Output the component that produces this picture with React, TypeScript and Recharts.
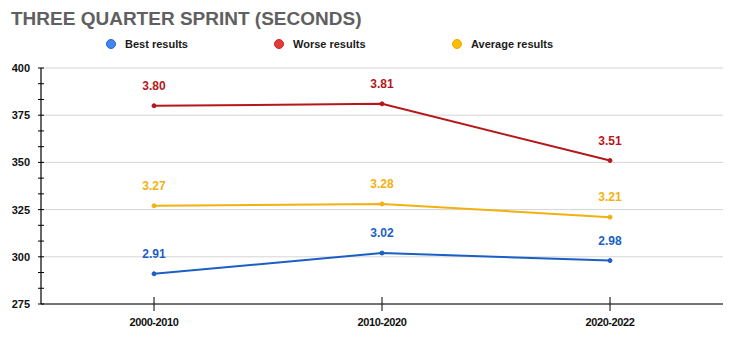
import React from "react";
import { LineChart, Line, XAxis, YAxis, CartesianGrid, LabelList } from "recharts";

const categories = ["2000-2010", "2010-2020", "2020-2022"];
const bestValues = [291, 302, 298];
const worseValues = [380, 381, 351];
const averageValues = [327, 328, 321];
const yMajorTicks = [275, 300, 325, 350, 375, 400];
const yAllTicks = [275, 283.33, 291.67, 300, 308.33, 316.67, 325, 333.33, 341.67, 350, 358.33, 366.67, 375, 383.33, 391.67, 400];

const data = categories.map((c, i) => ({
  name: c,
  best: bestValues[i],
  worse: worseValues[i],
  average: averageValues[i],
}));

const FONT = "'Liberation Sans', Arial, sans-serif";

const series = [
  { key: "best", label: "Best results", line: "#1a5fc4", dot: "#4285f4", border: "#2a66c8" },
  { key: "worse", label: "Worse results", line: "#b5171a", dot: "#e53935", border: "#c62828" },
  { key: "average", label: "Average results", line: "#f2b10f", dot: "#fbbc04", border: "#f0a800" },
];

const legendX = [111, 279, 457];

const YTick = (props: any) => {
  const { x, y, payload } = props;
  const v = payload.value;
  const major = yMajorTicks.some((m) => Math.abs(m - v) < 0.01);
  return (
    <g>
      <line x1={x - 3} x2={x + 3} y1={y} y2={y} stroke="#000" strokeWidth={1} />
      {major && (
        <text x={x - 11} y={y + 4} textAnchor="end" fontFamily={FONT} fontSize={11} fontWeight="bold" fill="#111">
          {v}
        </text>
      )}
    </g>
  );
};

const XTick = (props: any) => {
  const { x, y, payload } = props;
  return (
    <g>
      <line x1={x} x2={x} y1={y - 7} y2={y + 7} stroke="#000" strokeWidth={1} />
      <text x={x} y={y + 22} textAnchor="middle" fontFamily={FONT} fontSize={11} fontWeight="bold" fill="#111" letterSpacing={-0.4}>
        {payload.value}
      </text>
    </g>
  );
};

export default function App() {
  return (
    <div style={{ position: "absolute", left: 0, top: 0, width: 730, height: 339, background: "#fff" }}>
      <div
        style={{
          position: "absolute",
          left: 11,
          top: 6,
          fontFamily: FONT,
          fontWeight: "bold",
          fontSize: 19,
          color: "#606060",
          whiteSpace: "nowrap",
          lineHeight: "26px",
        }}
      >
        THREE QUARTER SPRINT (SECONDS)
      </div>
      {series.map((s, i) => (
        <div key={s.key}>
          <div
            style={{
              position: "absolute",
              left: legendX[i] - 5,
              top: 39,
              width: 10,
              height: 10,
              borderRadius: "50%",
              background: s.dot,
              boxSizing: "border-box",
              border: `1px solid ${s.border}`,
            }}
          />
          <div
            style={{
              position: "absolute",
              left: legendX[i] + 14,
              top: 36,
              fontFamily: FONT,
              fontWeight: "bold",
              fontSize: 11,
              lineHeight: "16px",
              color: "#1a1a1a",
              whiteSpace: "nowrap",
            }}
          >
            {s.label}
          </div>
        </div>
      ))}
      <LineChart width={730} height={339} data={data} margin={{ top: 68, right: 7, left: 0, bottom: 0 }}>
        <CartesianGrid stroke="#d4d4d4" horizontalValues={yMajorTicks} vertical={false} />
        <XAxis
          dataKey="name"
          height={35}
          padding={{ left: 113, right: 113 }}
          axisLine={{ stroke: "#000", strokeWidth: 1.2 }}
          tickLine={false}
          tickSize={0}
          tickMargin={0}
          tick={<XTick />}
          interval={0}
        />
        <YAxis
          width={41}
          domain={[275, 400]}
          ticks={yAllTicks}
          interval={0}
          axisLine={{ stroke: "#000", strokeWidth: 1.2 }}
          tickLine={false}
          tickSize={0}
          tickMargin={0}
          tick={<YTick />}
          allowDataOverflow
        />
        {series.map((s) => (
          <Line
            key={s.key}
            dataKey={s.key}
            stroke={s.line}
            strokeWidth={2}
            dot={{ r: 2, fill: s.line, stroke: s.line, strokeWidth: 1 }}
            activeDot={false}
            isAnimationActive={false}
          >
            <LabelList
              dataKey={s.key}
              position="top"
              offset={16}
              fill={s.line}
              fontFamily={FONT}
              fontSize={12}
              fontWeight="bold"
              formatter={(v: any) => (Number(v) / 100).toFixed(2)}
            />
          </Line>
        ))}
      </LineChart>
    </div>
  );
}
